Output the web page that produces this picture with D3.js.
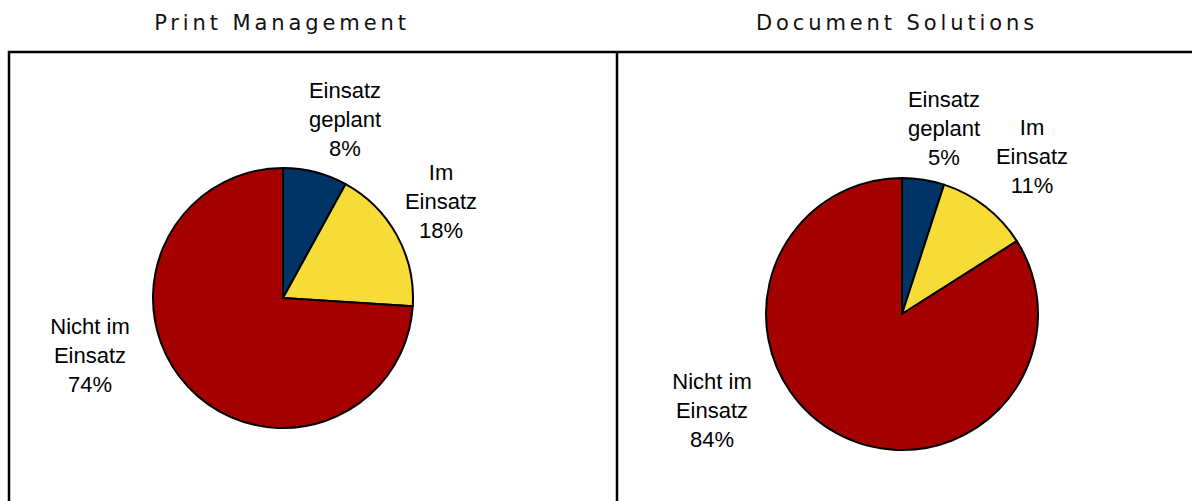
<!DOCTYPE html>
<html>
<head>
<meta charset="utf-8">
<script src="https://cdn.jsdelivr.net/npm/d3@7"></script>
<style>
  html, body { margin: 0; padding: 0; background: #fff; }
  svg { display: block; }
</style>
</head>
<body>
<svg id="chart" width="1192" height="501"></svg>
<script>
// ---- data ----
const chartTitles = ["Print Management", "Document Solutions"];
const categories = ["Einsatz geplant", "Im Einsatz", "Nicht im Einsatz"];
const labelLines = [["Einsatz", "geplant"], ["Im", "Einsatz"], ["Nicht im", "Einsatz"]];
const printManagement = [8, 18, 74];
const documentSolutions = [5, 11, 84];
const colors = ["#003366", "#f7dc38", "#a50000"];

// ---- layout ----
const svg = d3.select("#chart");
const W = 1192, H = 501;

// panel frame lines
svg.append("line").attr("x1", 8).attr("x2", W).attr("y1", 52).attr("y2", 52)
  .attr("stroke", "#000").attr("stroke-width", 2.5);
svg.append("line").attr("x1", 9).attr("x2", 9).attr("y1", 51).attr("y2", H)
  .attr("stroke", "#000").attr("stroke-width", 2.5);
svg.append("line").attr("x1", 617).attr("x2", 617).attr("y1", 51).attr("y2", H)
  .attr("stroke", "#000").attr("stroke-width", 2.5);

const panels = [
  { title: chartTitles[0], values: printManagement, cx: 283, cy: 298, r: 130, titleX: 282,
    labels: [[345, 91], [441, 173], [90, 327]] },
  { title: chartTitles[1], values: documentSolutions, cx: 902, cy: 314, r: 136, titleX: 897,
    labels: [[944, 100], [1032, 128], [712, 382]] }
];

const pie = d3.pie().sort(null).startAngle(0).endAngle(2 * Math.PI).value(d => d);

panels.forEach(p => {
  svg.append("text")
    .attr("x", p.titleX).attr("y", 30)
    .attr("text-anchor", "middle")
    .attr("font-family", "'DejaVu Sans', Verdana, sans-serif")
    .attr("font-size", 21)
    .attr("letter-spacing", 3.9)
    .attr("fill", "#111")
    .text(p.title);

  const arc = d3.arc().innerRadius(0).outerRadius(p.r);
  const g = svg.append("g").attr("transform", `translate(${p.cx},${p.cy})`);
  const arcs = pie(p.values);
  g.selectAll("path").data(arcs).enter().append("path")
    .attr("d", arc)
    .attr("fill", (d, i) => colors[i])
    .attr("stroke", "#000")
    .attr("stroke-width", 2)
    .attr("stroke-linejoin", "round");

  arcs.forEach((d, i) => {
    const [lx, ly] = p.labels[i];
    const t = svg.append("text")
      .attr("text-anchor", "middle")
      .attr("font-family", "'Liberation Sans', Arial, sans-serif")
      .attr("font-size", 22)
      .attr("fill", "#000");
    const lines = labelLines[i].concat([d3.format(".0f")(d.data) + "%"]);
    lines.forEach((s, k) => {
      t.append("tspan").attr("x", lx).attr("y", ly + k * 29 + 7).text(s);
    });
  });
});
</script>
</body>
</html>
